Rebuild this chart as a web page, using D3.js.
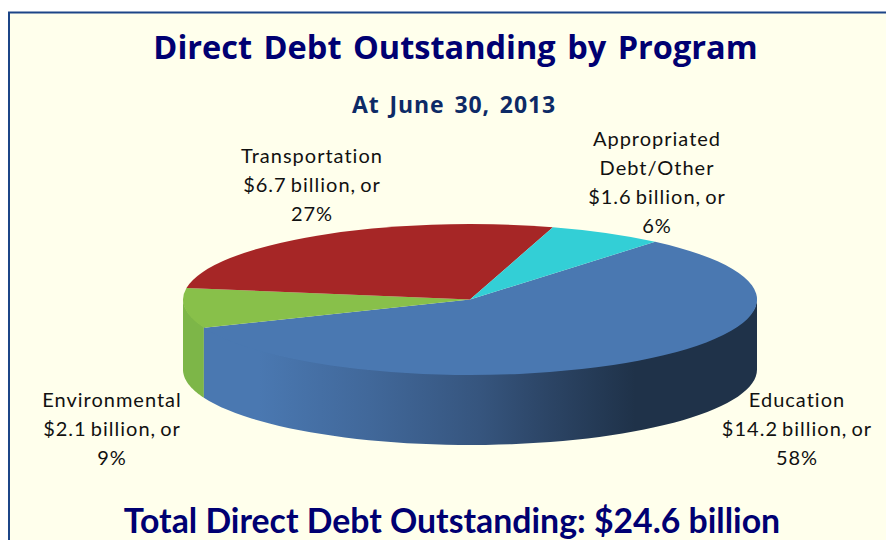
<!DOCTYPE html>
<html>
<head>
<meta charset="utf-8">
<script src="https://cdn.jsdelivr.net/npm/d3@7/dist/d3.min.js"></script>
<style>
html,body{margin:0;padding:0;background:#fff;overflow:hidden}
svg{display:block}
</style>
</head>
<body>
<svg id="c" width="886" height="540"></svg>
<script>
const categories = ["Education","Environmental","Transportation","Appropriated Debt/Other"];
const values = [14.2,2.1,6.7,1.6];
const percents = ["58%","9%","27%","6%"];
const faceColors = ["#4a78b1","#88c04a","#a62626","#33cfd6"];
const labelNameLines = [["Education"],["Environmental"],["Transportation"],["Appropriated","Debt/Other"]];
const labelCenters = [[797,400],[112,400],[312,156],[657,139]];
const titleText = "Direct Debt Outstanding by Program";
const subtitleText = "At June 30, 2013";
const footerText = "Total Direct Debt Outstanding: $24.6 billion";

const svg = d3.select("#c");
const W = 886, H = 540;
const cx = 470, cy = 299.5, rx = 287, ry = 75.5, depth = 70;
const deg = Math.PI/180;

svg.append("rect").attr("x",9).attr("y",12.5).attr("width",W+20).attr("height",H+20)
  .attr("fill","#ffffec").attr("stroke","#1c4587").attr("stroke-width",2);

const defs = svg.append("defs");
const grad = defs.append("linearGradient").attr("id","wall")
  .attr("gradientUnits","userSpaceOnUse").attr("x1",203).attr("x2",757).attr("y1",0).attr("y2",0);
[[0,"#4a78b1"],[0.1,"#4a78b1"],[0.3,"#41689a"],[0.5,"#36557e"],[0.62,"#2c4566"],[0.78,"#1f3249"],[1,"#1f3249"]]
  .forEach(s=>grad.append("stop").attr("offset",s[0]).attr("stop-color",s[1]));

const pie = d3.pie().sort(null).startAngle(40.2*deg).endAngle((360+40.2)*deg);
const slices = pie(values);

const px = a => cx + rx*Math.sin(a);
const py = a => cy - ry*Math.cos(a);

// side walls: only the front half of the rim (90deg to 270deg) is visible
const wallColors = ["url(#wall)","#7db648"];
const lo = 90*deg, hi = 270*deg;
const wallLine = d3.line().x(d=>d[0]).y(d=>d[1]);
[1,0].forEach(i=>{
  const s = slices[i];
  const a0 = Math.max(s.startAngle,lo), a1 = Math.min(s.endAngle,hi);
  if(a1<=a0) return;
  const steps = d3.range(0,61).map(k=>a0+(a1-a0)*k/60);
  const top = steps.map(a=>[px(a),py(a)-1]);
  const bot = steps.slice().reverse().map(a=>[px(a),py(a)+depth]);
  svg.append("path").attr("d",wallLine(top.concat(bot))+"Z").attr("fill",wallColors[i]);
});

// top faces
const arc = d3.arc().innerRadius(0).outerRadius(1);
const face = svg.append("g").attr("transform",`translate(${cx},${cy}) scale(${rx},${ry})`);
face.selectAll("path").data(slices).join("path")
  .attr("d",arc).attr("fill",(d,i)=>faceColors[i]);

// slice labels
const labelFont = "Lato, 'Open Sans', sans-serif";
slices.forEach((s,i)=>{
  const lines = labelNameLines[i].concat([`$${values[i].toFixed(1)} billion, or`, percents[i]]);
  const t = svg.append("text").attr("text-anchor","middle")
    .attr("font-family",labelFont).attr("font-size",20).attr("fill","#111");
  lines.forEach((l,j)=>t.append("tspan").attr("x",labelCenters[i][0])
    .attr("y",labelCenters[i][1]+6.5+j*29).attr("letter-spacing",1).attr("word-spacing",-2).text(l));
});

svg.append("text").attr("x",455.5).attr("y",59).attr("text-anchor","middle")
  .attr("font-family","'Open Sans', sans-serif").attr("font-weight",700).attr("font-size",32.5)
  .attr("letter-spacing",0).attr("word-spacing",3)
  .attr("fill","#000072").text(titleText);
svg.append("text").attr("x",454).attr("y",113).attr("text-anchor","middle")
  .attr("font-family","'Open Sans', sans-serif").attr("font-weight",700).attr("font-size",23)
  .attr("letter-spacing",0.9).attr("word-spacing",3)
  .attr("fill","#0d2a66").text(subtitleText);
svg.append("text").attr("x",452).attr("y",533).attr("text-anchor","middle")
  .attr("font-family",labelFont).attr("font-weight",700).attr("font-size",33.8)
  .attr("fill","#000072").text(footerText);
</script>
</body>
</html>
